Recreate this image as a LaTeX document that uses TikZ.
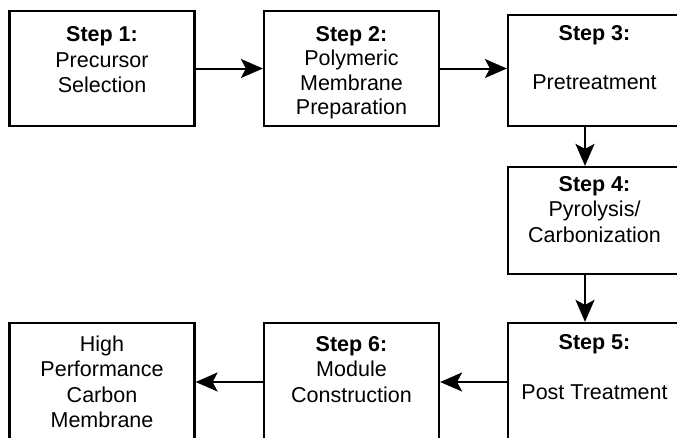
\documentclass[tikz,border=0pt]{standalone}
\usepackage{fontspec}
\setmainfont{Liberation Sans}
\usetikzlibrary{arrows.meta,positioning}

\begin{document}
\begin{tikzpicture}[x=1pt,y=-1pt,
  stepbox/.style={draw,line width=2.2pt,inner sep=0pt},
  steptext/.style={align=center,inner sep=0pt,font=\fontsize{21.5}{25.5}\selectfont},
  flow/.style={line width=2pt,-{Stealth[length=22pt,width=19pt,inset=5pt]}}]
\useasboundingbox (0,0) rectangle (677,437);
\clip (0,0) rectangle (677,437);

% Top row
\node[stepbox,minimum width=185pt,minimum height=115pt] (s1) at (102,68.5) {};
\node[stepbox,minimum width=175pt,minimum height=115pt] (s2) at (351.5,68.5) {};
\node[stepbox,minimum width=173pt,minimum height=111pt] (s3) at (594.5,70.5) {};
\node[steptext,below=16.5pt of s1.north] (t1) {\textbf{Step 1:}\\Precursor\\Selection};
\node[steptext,below=16pt of s2.north] (t2) {\textbf{Step 2:}\\[-1pt]Polymeric\\[-1pt]Membrane\\[-1pt]Preparation};
\node[steptext,below=11pt of s3.north] (t3) {\textbf{Step 3:}\\[24pt]Pretreatment};

% Right column
\node[stepbox,minimum width=173pt,minimum height=107pt] (s4) at (594.5,220.5) {};
\node[steptext,below=10pt of s4.north] (t4) {\textbf{Step 4:}\\Pyrolysis/\\Carbonization};

% Bottom row
\node[stepbox,minimum width=173pt,minimum height=118pt] (s5) at (594.5,382) {};
\node[stepbox,minimum width=175pt,minimum height=118pt] (s6) at (351.5,382) {};
\node[stepbox,minimum width=185pt,minimum height=118pt] (s7) at (102,382) {};
\node[steptext,below=12pt of s5.north] (t5) {\textbf{Step 5:}\\[25pt]Post Treatment};
\node[steptext,below=14pt of s6.north] (t6) {\textbf{Step 6:}\\Module\\Construction};
\node[steptext,below=13.5pt of s7.north] (t7) {High\\Performance\\Carbon\\Membrane};

% Arrows
\draw[flow] (s1) -- (s2);
\draw[flow] (s2.east) -- (s2.east -| s3.west);
\draw[flow] ([xshift=-9.5pt]s3.south) -- ([xshift=-9.5pt]s3.south |- s4.north);
\draw[flow] ([xshift=-9.5pt]s4.south) -- ([xshift=-9.5pt]s4.south |- s5.north);
\draw[flow] (s5.west) -- (s5.west -| s6.east);
\draw[flow] (s6) -- (s7);
\end{tikzpicture}
\end{document}
